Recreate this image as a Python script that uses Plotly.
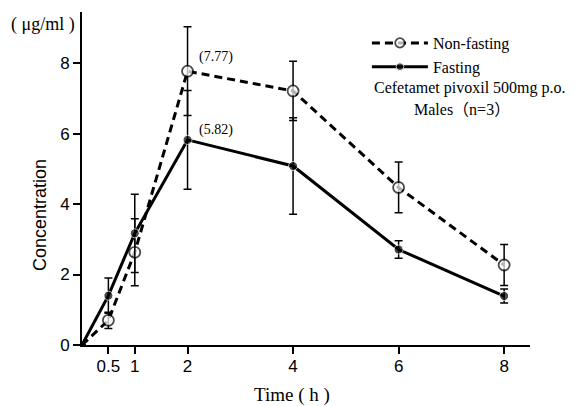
import plotly.graph_objects as go

# ---- data ----
time_h = [0, 0.5, 1, 2, 4, 6, 8]
nonfasting = [0, 0.70, 2.63, 7.77, 7.21, 4.47, 2.27]
nonfasting_sd = [None, 0.23, 0.95, 1.26, 0.84, 0.72, 0.58]
fasting = [0, 1.40, 3.17, 5.82, 5.08, 2.71, 1.39]
fasting_sd = [None, 0.50, 1.11, 1.40, 1.37, 0.25, 0.20]
x_ticks = [0.5, 1, 2, 4, 6, 8]
y_ticks = [0, 2, 4, 6, 8]
peak_labels = ["(7.77)", "(5.82)"]

SERIF = "Liberation Serif, Times New Roman, Noto Sans CJK JP, serif"
SANS = "Liberation Sans Narrow, Liberation Sans, Arial, sans-serif"

msize_open = [0] + [11] * (len(time_h) - 1)
msize_fill = [0] + [9] * (len(time_h) - 1)

fig = go.Figure()
fig.add_trace(go.Scatter(
    x=time_h, y=nonfasting, name="Non-fasting", mode="lines+markers",
    line=dict(color="black", width=3, dash="8px,5px"),
    marker=dict(symbol="circle", size=msize_open, color="white",
                line=dict(color="black", width=1.8)),
    error_y=dict(type="data", array=nonfasting_sd, visible=True,
                 color="black", thickness=1.5, width=4),
))
fig.add_trace(go.Scatter(
    x=time_h, y=fasting, name="Fasting", mode="lines+markers",
    line=dict(color="black", width=3),
    marker=dict(symbol="circle", size=msize_fill, color="black"),
    error_y=dict(type="data", array=fasting_sd, visible=True,
                 color="black", thickness=1.5, width=4),
))

annos = [
    dict(x=2, y=nonfasting[3], xref="x", yref="y", text=peak_labels[0],
         showarrow=False, xanchor="left", yanchor="middle", xshift=9, yshift=14,
         font=dict(family=SERIF, size=14, color="black")),
    dict(x=2, y=fasting[3], xref="x", yref="y", text=peak_labels[1],
         showarrow=False, xanchor="left", yanchor="middle", xshift=9, yshift=10,
         font=dict(family=SERIF, size=14, color="black")),
    dict(x=0.866, y=0.772, xref="paper", yref="paper",
         text="Cefetamet pivoxil 500mg p.o.", showarrow=False,
         xanchor="center", yanchor="middle",
         font=dict(family=SERIF, size=16, color="black")),
    dict(x=0.848, y=0.706, xref="paper", yref="paper",
         text="Males（n=3）", showarrow=False,
         xanchor="center", yanchor="middle",
         font=dict(family=SERIF, size=16, color="black")),
    dict(x=-0.087, y=0.961, xref="paper", yref="paper",
         text="( μg/ml )", showarrow=False,
         xanchor="center", yanchor="middle",
         font=dict(family=SERIF, size=18, color="black")),
    dict(x=-0.094, y=0.39, xref="paper", yref="paper",
         text="Concentration", showarrow=False, textangle=-90,
         xanchor="center", yanchor="middle",
         font=dict(family=SANS, size=18, color="black")),
    dict(x=0.469, y=-0.150, xref="paper", yref="paper",
         text="Time ( h )", showarrow=False,
         xanchor="center", yanchor="middle",
         font=dict(family=SERIF, size=19, color="black")),
]

# the page body adds an 8px offset; the figure is sized/margined to compensate
fig.update_layout(
    width=567, height=398,
    margin=dict(l=74, r=45, t=4, b=61),
    plot_bgcolor="white", paper_bgcolor="white",
    showlegend=True,
    legend=dict(x=0.636, y=0.958, xanchor="left", yanchor="top",
                bgcolor="rgba(0,0,0,0)", itemwidth=56,
                font=dict(family=SERIF, size=16, color="black"),
                tracegroupgap=0),
    annotations=annos,
    xaxis=dict(range=[0, 8.49], tickvals=x_ticks,
               ticktext=[str(t) for t in x_ticks],
               showgrid=False, zeroline=False, showline=True,
               linecolor="black", linewidth=2,
               ticks="outside", ticklen=7, tickwidth=1.5, tickcolor="black",
               ticklabelstandoff=-2,
               tickfont=dict(family=SANS, size=17, color="black")),
    yaxis=dict(range=[0, 9.45], tickvals=y_ticks,
               showgrid=False, zeroline=False, showline=True,
               linecolor="black", linewidth=2,
               ticks="outside", ticklen=7, tickwidth=1.5, tickcolor="black",
               tickfont=dict(family=SANS, size=17, color="black")),
)

fig.write_html("out.html")
